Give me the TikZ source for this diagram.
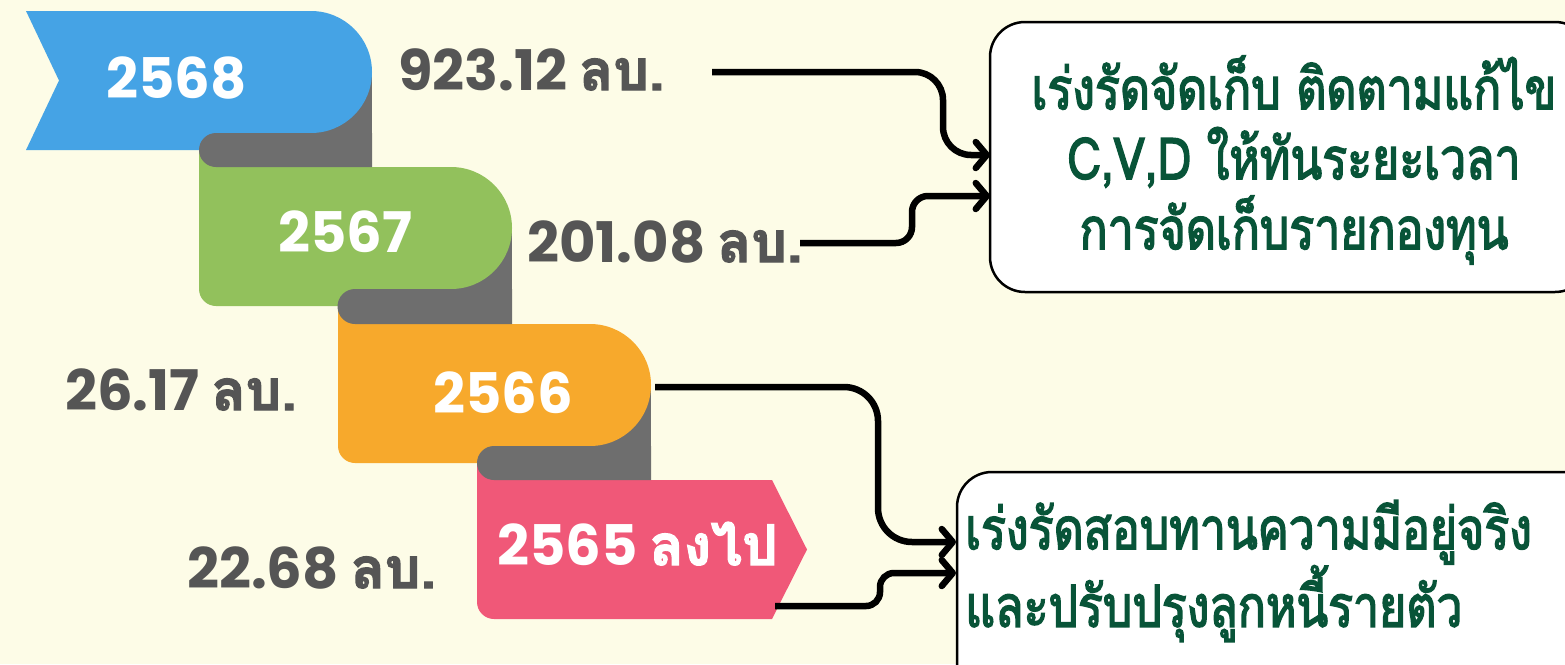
\documentclass[tikz,border=0pt]{standalone}
\usepackage{fontspec}
\usetikzlibrary{arrows.meta}
\newfontfamily\thai[Script=Thai,FakeBold=2.5]{Loma}
\newfontfamily\thaic[Script=Thai,FakeStretch=0.8,FakeBold=2.5]{Loma}
\newfontfamily\pop{Poppins}
\definecolor{bg}{RGB}{253,252,231}
\definecolor{cblue}{RGB}{69,163,229}
\definecolor{cgreen}{RGB}{146,193,92}
\definecolor{corange}{RGB}{247,169,44}
\definecolor{cpink}{RGB}{240,88,120}
\definecolor{fold}{RGB}{110,110,110}
\definecolor{amt}{RGB}{85,85,85}
\definecolor{dgreen}{RGB}{8,84,56}
\tikzset{
  yr/.style={anchor=base west, inner sep=0, text=white, font=\fontsize{56}{60}\selectfont\bfseries},
  amount/.style={anchor=base west, inner sep=0, text=amt, font=\fontsize{56}{60}\selectfont\bfseries},
  box/.style={draw=black, line width=2.5pt, fill=white, rounded corners=35pt, inner sep=0},
  boxtext/.style={text=dgreen, inner sep=0, font=\fontsize{58}{70}\selectfont\thaic},
  conn/.style={draw=black, line width=6.5pt, -{Straight Barb[length=11pt,width=26pt,round]}}
}
\begin{document}
\begin{tikzpicture}[x=1pt,y=-1pt]
\useasboundingbox (0,0) rectangle (1565,664);
\clip (0,0) rectangle (1565,664);
\fill[bg] (0,0) rectangle (1565,664);
% grey under the round ends
\fill[fold] (311,72) rectangle (372,135);
\fill[fold] (451,228) rectangle (512,291);
\fill[fold] (590,385) rectangle (651,448);
% bands
\fill[cblue] (26,11) -- (311,11) arc[start angle=90,end angle=-90,radius=61pt]
  -- (240,133) -- (240,150) -- (26,150) -- (59,80.5) -- cycle;
\fill[cgreen] (199,150) -- (240,150) -- (240,167) -- (451,167)
  arc[start angle=90,end angle=-90,radius=61pt] -- (380,289) -- (380,306) -- (216,306)
  arc[start angle=-90,end angle=-180,radius=17pt] -- cycle;
\fill[corange] (338,307) -- (380,307) -- (380,324) -- (590,324)
  arc[start angle=90,end angle=-90,radius=61pt] -- (520,446) -- (520,463) -- (355,463)
  arc[start angle=-90,end angle=-180,radius=17pt] -- cycle;
\fill[cpink] (477,463) -- (520,463) -- (520,480) -- (772,480) -- (807,549.5) -- (772,619)
  -- (494,619) arc[start angle=-90,end angle=-180,radius=17pt] -- cycle;
% fold tabs
\fill[fold] (216,133) -- (372,133) -- (372,167) -- (216,167) arc[start angle=-90,end angle=-270,radius=17pt] -- cycle;
\fill[fold] (355,289) -- (512,289) -- (512,324) -- (355,324) arc[start angle=-90,end angle=-270,radius=17.5pt] -- cycle;
\fill[fold] (494,446) -- (651,446) -- (651,480) -- (494,480) arc[start angle=-90,end angle=-270,radius=17pt] -- cycle;
% year labels
\node[yr] (y68) at (106,98) {\pop 2568};
\node[yr] (y67) at (278,252) {\pop 2567};
\node[yr] (y66) at (433,413) {\pop 2566};
\node[yr] (y65) at (497,565) {\pop 2565 {\thai ลงไป}};
% amounts
\node[amount] (a1) at (398,90) {\pop 923.12 {\thai ลบ.}};
\node[amount] (a2) at (527,262) {\pop 201.08 {\thai ลบ.}};
\node[amount] (a3) at (65,410) {\pop 26.17 {\thai ลบ.}};
\node[amount] (a4) at (187,588) {\pop 22.68 {\thai ลบ.}};
% boxes
\node[box, minimum width=600pt, minimum height=270pt] (b1) at (1290,157) {};
\node[box, minimum width=640pt, minimum height=260pt] (b2) at (1277,602) {};
\node[boxtext, align=center] (t1) at (1294,160) {เร่งรัดจัดเก็บ ติดตามแก้ไข\\C,V,D ให้ทันระยะเวลา\\การจัดเก็บรายกองทุน};
\node[boxtext, align=left, anchor=west, font=\fontsize{58}{62}\selectfont\thaic] (t2) at (965,571) {เร่งรัดสอบทานความมีอยู่จริง\\และปรับปรุงลูกหนี้รายตัว};
% connectors
\coordinate (s1) at (712,72);
\coordinate (e1) at (990,155);
\coordinate (s2) at (800,243);
\coordinate (e2) at (990,196);
\coordinate (s3) at (655,387);
\coordinate (e3) at (956,542);
\coordinate (s4) at (775,606);
\coordinate (e4) at (956,573);
\draw[conn, rounded corners=28pt] (s1) -- (943,72) -- (943,155) -- (e1);
\draw[conn, rounded corners=16pt] (s2) -- (912,243) -- (912,196) -- (e2);
\draw[conn, rounded corners=34pt] (s3) -- (878,387) -- (878,542) -- (e3);
\draw[conn, rounded corners=14pt] (s4) -- (880,606) -- (880,573) -- (e4);
\end{tikzpicture}
\end{document}
